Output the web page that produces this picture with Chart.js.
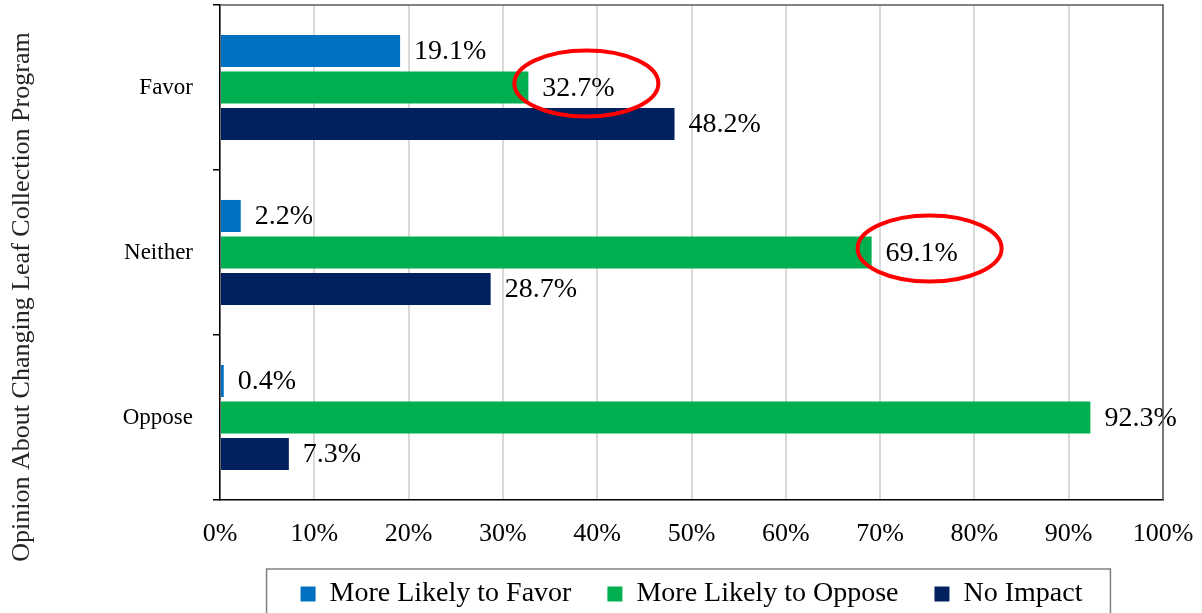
<!DOCTYPE html>
<html>
<head>
<meta charset="utf-8">
<script src="https://cdn.jsdelivr.net/npm/chart.js@4.4.1/dist/chart.umd.min.js"></script>
<style>
  body { margin: 0; background: #fff; }
  canvas { display: block; }
</style>
</head>
<body>
<canvas id="chart" width="1202" height="613"></canvas>
<script>
// Data
const categories = ['Favor', 'Neither', 'Oppose'];
const seriesNames = ['More Likely to Favor', 'More Likely to Oppose', 'No Impact'];
const likelyFavor = [19.1, 2.2, 0.4];
const likelyOppose = [32.7, 69.1, 92.3];
const noImpact = [48.2, 28.7, 7.3];
const circled = [[1, 0], [1, 1]];   // [dataset, category] labels with a red ring
const axisTitle = 'Opinion About Changing Leaf Collection Program';

const FONT = '"Liberation Serif", "Times New Roman", serif';
const colors = ['#0070C0', '#00B050', '#002060'];

// Value labels and red rings
const valueLabels = {
    id: 'valueLabels',
    afterDatasetsDraw(chart) {
        const ctx = chart.ctx;
        ctx.save();
        ctx.font = '28px ' + FONT;
        ctx.fillStyle = '#000';
        ctx.textBaseline = 'middle';
        ctx.textAlign = 'left';
        chart.data.datasets.forEach((ds, i) => {
            chart.getDatasetMeta(i).data.forEach((bar, j) => {
                ctx.fillText(ds.data[j].toFixed(1) + '%', bar.x + 14, bar.y + 1);
            });
        });
        ctx.strokeStyle = '#ff0000';
        ctx.lineWidth = 4;
        circled.forEach(([d, j]) => {
            const bar = chart.getDatasetMeta(d).data[j];
            ctx.beginPath();
            ctx.ellipse(bar.x + 58, bar.y - 4, 72, 33, 0, 0, Math.PI * 2);
            ctx.stroke();
        });
        ctx.restore();
    }
};

// Plot frame, axis title and legend border
const decorations = {
    id: 'decorations',
    afterDraw(chart) {
        const ctx = chart.ctx;
        const a = chart.chartArea;
        ctx.save();
        ctx.strokeStyle = '#595959';
        ctx.lineWidth = 1.5;
        ctx.beginPath();
        ctx.moveTo(a.left, a.top);
        ctx.lineTo(a.right, a.top);
        ctx.lineTo(a.right, a.bottom);
        ctx.stroke();

        ctx.translate(22, 297);
        ctx.rotate(-Math.PI / 2);
        ctx.font = '26px ' + FONT;
        ctx.fillStyle = '#262626';
        ctx.textAlign = 'center';
        ctx.textBaseline = 'middle';
        ctx.fillText(axisTitle, 0, 0);
        ctx.setTransform(1, 0, 0, 1, 0, 0);

        const hb = chart.legend.legendHitBoxes;
        if (hb && hb.length) {
            const last = hb[hb.length - 1];
            const midY = hb[0].top + hb[0].height / 2;
            ctx.strokeStyle = '#808080';
            ctx.lineWidth = 1.5;
            ctx.strokeRect(hb[0].left - 34, midY - 25, last.left + last.width + 28 - (hb[0].left - 34), 80);
        }
        ctx.restore();
    }
};

new Chart(document.getElementById('chart'), {
    type: 'bar',
    data: {
        labels: categories,
        datasets: [
            { label: seriesNames[0], data: likelyFavor, backgroundColor: colors[0] },
            { label: seriesNames[1], data: likelyOppose, backgroundColor: colors[1] },
            { label: seriesNames[2], data: noImpact, backgroundColor: colors[2] }
        ]
    },
    options: {
        indexAxis: 'y',
        responsive: false,
        animation: false,
        barPercentage: 0.877,
        categoryPercentage: 0.664,
        layout: { padding: { left: 0, right: 39, top: 5, bottom: -5 } },
        scales: {
            x: {
                min: 0,
                max: 100,
                afterFit(scale) {
                    scale.height = 44;
                    scale.paddingLeft = 0;
                    scale.paddingRight = 0;
                },
                ticks: {
                    stepSize: 10,
                    color: '#000',
                    padding: 19,
                    font: { family: FONT, size: 26 },
                    callback: v => v + '%'
                },
                grid: { color: '#d9d9d9', lineWidth: 2, drawTicks: false },
                border: { color: '#000', width: 1.5 }
            },
            y: {
                afterFit(scale) {
                    scale.width = 220;
                    scale.paddingTop = 0;
                    scale.paddingBottom = 0;
                },
                ticks: {
                    color: '#000',
                    padding: 20,
                    font: { family: FONT, size: 23 }
                },
                grid: { offset: true, drawOnChartArea: false, tickLength: 7, color: '#000', lineWidth: 1.5 },
                border: { color: '#000', width: 1.5 }
            }
        },
        plugins: {
            legend: {
                position: 'bottom',
                fullSize: false,
                labels: {
                    boxWidth: 15,
                    boxHeight: 15,
                    padding: 36,
                    color: '#000',
                    font: { family: FONT, size: 28 }
                }
            },
            tooltip: { enabled: false }
        }
    },
    plugins: [valueLabels, decorations]
});
</script>
</body>
</html>
